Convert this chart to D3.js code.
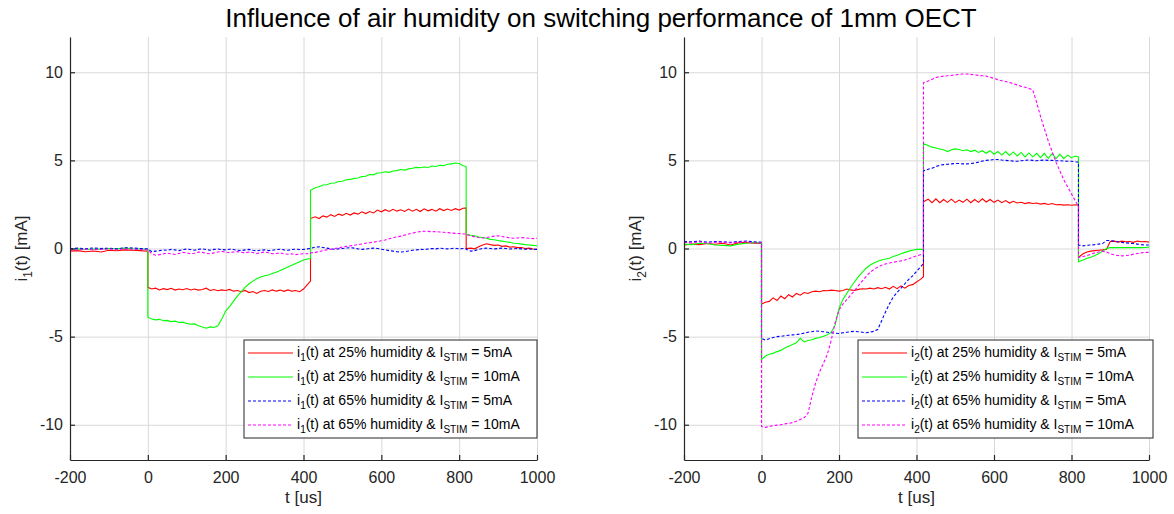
<!doctype html>
<html>
<head>
<meta charset="utf-8">
<script src="https://cdn.jsdelivr.net/npm/d3@7"></script>
<style>
  body { margin: 0; background: #fff; font-family: "Liberation Sans", Arial, sans-serif; }
  .grid line { stroke: #d8d8d8; stroke-width: 1; }
  .grid .domain { display: none; }
  .axis path, .axis line { stroke: #262626; stroke-width: 1.2; }
  .axis text { fill: #262626; font-size: 16px; font-family: "Liberation Sans", Arial, sans-serif; }
  .lbl { fill: #262626; font-size: 17px; }
  .legend text { fill: #000; font-size: 14px; }
</style>
</head>
<body>
<script>
// sample times [us]
var tPre = [-200,-180,-160,-140,-120,-100,-80,-60,-40,-20,0];
var tA = [0,10,20,30,40,50,60,70,80,90,100,110,120,130,140,150,160,170,180,190,200,210,220,230,240,250,260,270,280,290,300,310,320,330,340,350,360,370,380,390,400,410,418];
var tB = [418,430,440,450,460,470,480,490,500,510,520,530,540,550,560,570,580,590,600,610,620,630,640,650,660,670,680,690,700,710,720,730,740,750,760,770,780,790,800,810,818];
var tC = [818,830,840,850,860,870,880,890,900,910,920,930,940,950,960,970,980,990,1000];

var xTicks = [-200,0,200,400,600,800,1000];
var yTicks = [-10,-5,0,5,10];

// left panel: i1(t) [mA]
var i1_25_5 = {
  pre: [-0.15,-0.12,-0.18,-0.14,-0.2,-0.1,-0.13,-0.08,-0.1,-0.12,-0.15],
  a: [-2.2,-2.3,-2.25,-2.35,-2.28,-2.33,-2.26,-2.36,-2.3,-2.34,-2.27,-2.35,-2.3,-2.36,-2.33,-2.25,-2.38,-2.33,-2.4,-2.35,-2.38,-2.32,-2.42,-2.38,-2.45,-2.38,-2.5,-2.44,-2.55,-2.42,-2.38,-2.44,-2.35,-2.42,-2.36,-2.43,-2.35,-2.42,-2.38,-2.45,-2.3,-2.05,-1.85],
  b: [1.7,1.8,1.7,1.85,1.78,1.92,1.82,1.95,1.88,2.0,1.9,2.02,1.95,2.08,1.98,2.1,2.02,2.18,2.08,2.2,2.1,2.22,2.12,2.2,2.1,2.24,2.12,2.22,2.1,2.25,2.14,2.22,2.12,2.26,2.15,2.24,2.16,2.26,2.18,2.28,2.3],
  c: [0.0,0.02,-0.02,0.1,0.2,0.27,0.22,0.18,0.2,0.12,0.15,0.08,0.1,0.05,0.06,0.0,0.02,-0.03,-0.05]
};
var i1_25_10 = {
  pre: [-0.05,-0.02,-0.06,-0.03,-0.04,0.0,-0.02,0.02,-0.01,-0.03,-0.05],
  a: [-3.9,-4.0,-4.05,-4.02,-4.1,-4.08,-4.15,-4.12,-4.2,-4.18,-4.25,-4.3,-4.28,-4.38,-4.45,-4.52,-4.45,-4.48,-4.38,-4.0,-3.55,-3.3,-3.0,-2.7,-2.45,-2.2,-2.0,-1.85,-1.72,-1.62,-1.55,-1.5,-1.42,-1.35,-1.25,-1.15,-1.05,-0.95,-0.85,-0.75,-0.65,-0.6,-0.57],
  b: [3.3,3.45,3.5,3.6,3.62,3.7,3.72,3.8,3.82,3.9,3.92,3.98,4.0,4.08,4.1,4.2,4.18,4.28,4.3,4.35,4.32,4.4,4.42,4.48,4.45,4.52,4.55,4.6,4.58,4.62,4.6,4.68,4.65,4.72,4.7,4.78,4.8,4.85,4.82,4.7,4.65],
  c: [0.8,0.75,0.72,0.65,0.62,0.58,0.52,0.5,0.45,0.42,0.38,0.35,0.3,0.28,0.25,0.22,0.2,0.18,0.15]
};
var i1_65_5 = {
  pre: [-0.02,0.02,-0.01,0.03,0.0,0.02,-0.02,0.04,0.03,0.0,-0.02],
  a: [-0.02,-0.18,-0.15,-0.12,-0.08,-0.1,-0.05,-0.08,-0.12,-0.06,-0.03,-0.06,-0.1,-0.05,-0.02,-0.06,-0.1,-0.05,-0.03,-0.06,-0.08,-0.04,-0.06,-0.1,-0.12,-0.08,-0.05,-0.1,-0.13,-0.1,-0.08,-0.12,-0.1,-0.06,-0.04,-0.08,-0.1,-0.06,-0.04,-0.06,-0.05,-0.02,0.0],
  b: [0.0,0.08,0.1,0.06,0.02,-0.02,-0.04,-0.02,0.0,0.03,0.05,0.02,-0.02,-0.05,-0.03,0.0,0.02,0.0,-0.04,-0.08,-0.12,-0.15,-0.18,-0.2,-0.18,-0.14,-0.1,-0.08,-0.05,-0.06,-0.03,0.0,-0.02,0.02,0.0,-0.02,0.0,0.02,-0.02,0.0,-0.02],
  c: [-0.05,-0.15,-0.12,-0.05,0.0,0.02,0.0,-0.02,0.0,0.02,0.0,-0.03,-0.02,0.0,-0.02,-0.04,-0.03,-0.05,-0.05]
};
var i1_65_10 = {
  pre: [-0.05,-0.08,-0.04,-0.07,-0.05,-0.03,-0.06,-0.02,-0.04,-0.06,-0.08],
  a: [-0.08,-0.3,-0.38,-0.35,-0.3,-0.26,-0.3,-0.34,-0.28,-0.22,-0.25,-0.3,-0.27,-0.2,-0.22,-0.28,-0.3,-0.25,-0.2,-0.17,-0.2,-0.24,-0.2,-0.18,-0.22,-0.25,-0.2,-0.23,-0.28,-0.25,-0.2,-0.24,-0.3,-0.28,-0.25,-0.3,-0.33,-0.3,-0.35,-0.32,-0.3,-0.3,-0.28],
  b: [-0.25,-0.22,-0.18,-0.12,-0.08,-0.05,0.0,0.03,0.08,0.12,0.15,0.18,0.22,0.26,0.3,0.33,0.36,0.4,0.44,0.48,0.55,0.6,0.66,0.7,0.76,0.82,0.88,0.92,0.96,0.98,0.97,0.95,0.96,0.94,0.92,0.9,0.88,0.86,0.85,0.83,0.82],
  c: [0.8,0.72,0.66,0.62,0.6,0.62,0.66,0.7,0.72,0.68,0.64,0.6,0.58,0.6,0.62,0.6,0.58,0.56,0.58]
};

// right panel: i2(t) [mA]
var i2_25_5 = {
  pre: [0.2,0.25,0.22,0.28,0.24,0.3,0.2,0.32,0.35,0.3,0.28],
  a: [-3.15,-3.05,-3.0,-2.8,-2.95,-2.7,-2.85,-2.62,-2.75,-2.55,-2.65,-2.5,-2.55,-2.45,-2.42,-2.45,-2.38,-2.4,-2.36,-2.38,-2.42,-2.38,-2.3,-2.35,-2.38,-2.32,-2.28,-2.3,-2.25,-2.3,-2.22,-2.28,-2.2,-2.3,-2.15,-2.28,-2.12,-2.25,-2.1,-2.05,-1.9,-1.75,-1.6],
  b: [2.65,2.8,2.6,2.82,2.6,2.78,2.62,2.8,2.6,2.75,2.62,2.8,2.6,2.78,2.62,2.82,2.64,2.78,2.62,2.75,2.6,2.72,2.58,2.68,2.58,2.62,2.55,2.6,2.55,2.58,2.52,2.56,2.5,2.55,2.48,2.5,2.46,2.48,2.45,2.48,2.45],
  c: [-0.5,-0.3,-0.2,-0.15,-0.12,-0.1,-0.08,-0.05,0.4,0.42,0.36,0.42,0.38,0.4,0.35,0.42,0.38,0.4,0.36]
};
var i2_25_10 = {
  pre: [0.25,0.22,0.3,0.28,0.2,0.18,0.15,0.25,0.3,0.35,0.32],
  a: [-6.3,-6.1,-6.0,-5.95,-5.85,-5.78,-5.65,-5.55,-5.45,-5.35,-5.1,-5.3,-5.22,-5.18,-5.1,-5.05,-4.98,-4.9,-4.75,-4.35,-3.4,-2.9,-2.55,-2.2,-1.9,-1.6,-1.35,-1.12,-0.95,-0.82,-0.72,-0.65,-0.6,-0.55,-0.45,-0.38,-0.3,-0.22,-0.15,-0.1,-0.05,-0.05,-0.05],
  b: [5.95,5.85,5.75,5.7,5.65,5.6,5.5,5.6,5.65,5.62,5.55,5.6,5.5,5.58,5.45,5.55,5.4,5.55,5.35,5.5,5.3,5.5,5.28,5.48,5.25,5.45,5.2,5.42,5.2,5.4,5.15,5.4,5.12,5.38,5.1,5.35,5.1,5.3,5.15,5.25,5.2],
  c: [-0.75,-0.65,-0.55,-0.5,-0.4,-0.3,-0.15,0.0,0.05,0.05,0.05,0.06,0.05,0.06,0.05,0.06,0.05,0.06,0.08]
};
var i2_65_5 = {
  pre: [0.4,0.38,0.42,0.36,0.4,0.38,0.35,0.4,0.42,0.38,0.36],
  a: [-5.1,-5.2,-5.12,-5.05,-5.0,-4.98,-4.95,-4.92,-4.9,-4.88,-4.85,-4.8,-4.75,-4.72,-4.68,-4.7,-4.72,-4.75,-4.78,-4.8,-4.82,-4.78,-4.75,-4.72,-4.7,-4.72,-4.75,-4.78,-4.75,-4.7,-4.6,-4.1,-3.6,-3.15,-2.75,-2.5,-2.25,-2.0,-1.75,-1.55,-1.3,-1.05,-0.85],
  b: [4.4,4.5,4.55,4.65,4.72,4.76,4.78,4.8,4.82,4.82,4.8,4.8,4.82,4.85,4.9,4.96,5.0,5.02,5.05,5.05,5.02,5.0,4.98,4.96,4.95,4.98,5.0,5.02,5.0,4.98,5.0,5.02,5.0,5.0,4.98,4.98,4.96,4.95,4.95,4.92,4.9],
  c: [0.2,0.15,0.18,0.2,0.22,0.25,0.28,0.45,0.45,0.42,0.38,0.35,0.32,0.3,0.28,0.25,0.22,0.2,0.2]
};
var i2_65_10 = {
  pre: [0.35,0.32,0.38,0.3,0.35,0.36,0.32,0.35,0.38,0.33,0.32],
  a: [-10.1,-10.15,-10.1,-10.05,-10.02,-10.0,-9.95,-9.92,-9.88,-9.8,-9.7,-9.6,-9.35,-8.4,-7.6,-7.0,-6.5,-6.0,-5.2,-4.2,-3.5,-3.15,-2.9,-2.65,-2.4,-2.1,-1.85,-1.6,-1.35,-1.2,-1.05,-0.95,-0.88,-0.82,-0.78,-0.74,-0.7,-0.65,-0.58,-0.5,-0.42,-0.35,-0.3],
  b: [9.4,9.5,9.6,9.7,9.75,9.78,9.8,9.82,9.85,9.88,9.9,9.9,9.88,9.85,9.82,9.8,9.78,9.72,9.65,9.58,9.52,9.48,9.42,9.35,9.28,9.2,9.15,9.08,9.0,8.3,7.5,6.8,6.1,5.5,4.9,4.4,3.9,3.5,3.1,2.7,2.4],
  c: [-0.5,-0.45,-0.4,-0.32,-0.25,-0.2,-0.15,-0.2,-0.3,-0.36,-0.4,-0.42,-0.4,-0.38,-0.32,-0.28,-0.25,-0.22,-0.22]
};

var colors = ["#ff0000", "#00ff00", "#0000ff", "#ff00ff"];
var dashes = [null, null, "3,2", "3,2"];
var humid = ["25%", "25%", "65%", "65%"];
var stim = ["5mA", "10mA", "5mA", "10mA"];

var W = 1174, H = 514;
var plotTop = 37, plotBottom = 460;

var svg = d3.select("body").append("svg")
    .attr("width", W)
    .attr("height", H);

svg.append("text")
    .attr("x", 601)
    .attr("y", 27)
    .attr("text-anchor", "middle")
    .style("font-size", "26px")
    .attr("fill", "#000")
    .text("Influence of air humidity on switching performance of 1mm OECT");

var panels = [
  { left: 70, right: 537, sub: "1", ylabX: 21, legX: 244, legW: 293, series: [i1_25_5, i1_25_10, i1_65_5, i1_65_10] },
  { left: 684, right: 1149, sub: "2", ylabX: 635, legX: 858, legW: 295, series: [i2_25_5, i2_25_10, i2_65_5, i2_65_10] }
];

function join(s) {
  var tt = tPre.concat(tA, tB, tC);
  var vv = s.pre.concat(s.a, s.b, s.c);
  var n = Math.min(tt.length, vv.length);
  var out = [];
  for (var i = 0; i < n; i++) out.push([tt[i], vv[i]]);
  return out;
}

var fmt = function(d) { return String(d); };

panels.forEach(function(p) {
  var x = d3.scaleLinear().domain([-200, 1000]).range([p.left, p.right]);
  var y = d3.scaleLinear().domain([-12, 12]).range([plotBottom, plotTop]);

  var g = svg.append("g");

  // grid
  g.append("g").attr("class", "grid")
      .attr("transform", "translate(0," + plotBottom + ")")
      .call(d3.axisBottom(x).tickValues(xTicks).tickSize(-(plotBottom - plotTop)).tickFormat(""));
  g.append("g").attr("class", "grid")
      .attr("transform", "translate(" + p.left + ",0)")
      .call(d3.axisLeft(y).tickValues(yTicks).tickSize(-(p.right - p.left)).tickFormat(""));

  // curves
  var line = d3.line().x(function(d) { return x(d[0]); }).y(function(d) { return y(d[1]); });
  p.series.forEach(function(s, i) {
    g.append("path")
        .datum(join(s))
        .attr("fill", "none")
        .attr("stroke", colors[i])
        .attr("stroke-width", 1.1)
        .attr("stroke-dasharray", dashes[i])
        .attr("d", line);
  });

  // axes (ticks inside, like matlab)
  g.append("g").attr("class", "axis")
      .attr("transform", "translate(0," + plotBottom + ")")
      .call(d3.axisBottom(x).tickValues(xTicks).tickFormat(fmt).tickSizeInner(-5).tickSizeOuter(0).tickPadding(12));
  g.append("g").attr("class", "axis")
      .attr("transform", "translate(" + p.left + ",0)")
      .call(d3.axisLeft(y).tickValues(yTicks).tickFormat(fmt).tickSizeInner(-5).tickSizeOuter(0).tickPadding(7));

  // axis labels
  g.append("text").attr("class", "lbl")
      .attr("x", (p.left + p.right) / 2)
      .attr("y", 503)
      .attr("text-anchor", "middle")
      .text("t [us]");

  var yl = g.append("text").attr("class", "lbl")
      .attr("transform", "translate(" + (p.ylabX + 6) + "," + ((plotTop + plotBottom) / 2) + ") rotate(-90)")
      .attr("text-anchor", "middle");
  yl.append("tspan").text("i");
  yl.append("tspan").attr("dy", 5).style("font-size", "12px").text(p.sub);
  yl.append("tspan").attr("dy", -5).text("(t) [mA]");

  // legend
  var lg = g.append("g").attr("class", "legend")
      .attr("transform", "translate(" + p.legX + ",340)");
  lg.append("rect")
      .attr("width", p.legW)
      .attr("height", 98)
      .attr("fill", "#fff")
      .attr("stroke", "#262626")
      .attr("stroke-width", 1);
  colors.forEach(function(c, i) {
    var cy = 13 + i * 24;
    lg.append("line")
        .attr("x1", 4).attr("x2", 49)
        .attr("y1", cy).attr("y2", cy)
        .attr("stroke", c)
        .attr("stroke-width", 1.1)
        .attr("stroke-dasharray", dashes[i]);
    var tx = lg.append("text").attr("x", 53).attr("y", cy + 4);
    tx.append("tspan").text("i");
    tx.append("tspan").attr("dy", 4).style("font-size", "10px").text(p.sub);
    tx.append("tspan").attr("dy", -4).text("(t) at " + humid[i] + " humidity & I");
    tx.append("tspan").attr("dy", 4).style("font-size", "10px").text("STIM");
    tx.append("tspan").attr("dy", -4).text(" = " + stim[i]);
  });
});
</script>
</body>
</html>
